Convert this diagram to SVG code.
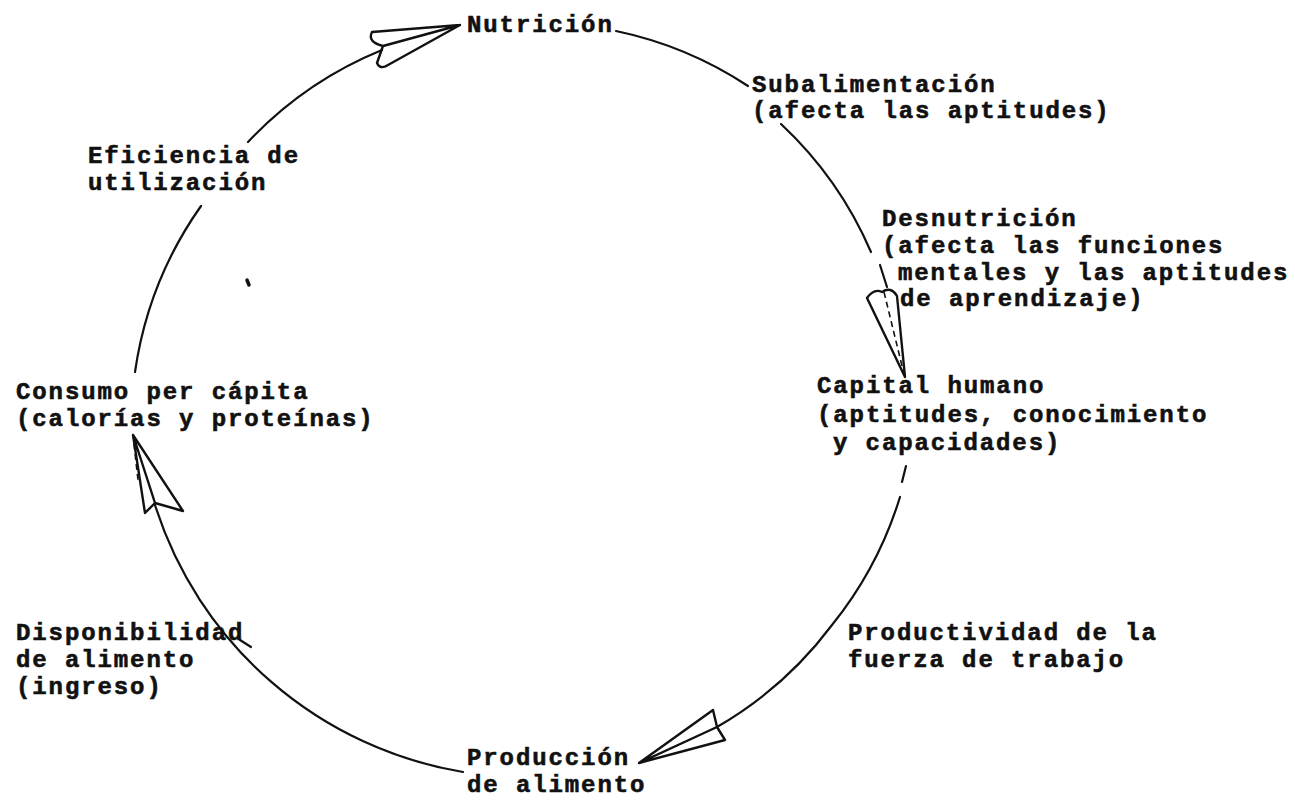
<svg xmlns="http://www.w3.org/2000/svg" width="1295" height="800" viewBox="0 0 1295 800">
<style>
.t{font-family:"Liberation Mono","DejaVu Sans Mono",monospace;font-weight:bold;font-size:24px;letter-spacing:1.9px;fill:#111;stroke:#111;stroke-width:0.6px}
.c{fill:none;stroke:#111;stroke-width:2.2;stroke-linecap:round;stroke-linejoin:round}
.a{fill:none;stroke:#111;stroke-width:2.4;stroke-linecap:round;stroke-linejoin:round}
.d{fill:none;stroke:#111;stroke-width:1.6;stroke-dasharray:6 4}
</style>
<rect width="1295" height="800" fill="#fff"/>
<g id="connectors">
<path class="c" d="M616,31 A382,382 0 0 1 748,86"/>
<path class="c" d="M781,124 A382,382 0 0 1 871,252"/>
<path class="c" d="M880,265 L887,287"/>
<path class="a" d="M867,298 L905,377 L897,296 Q891,286 882,292 Q874,288 867,298 Z"/>
<path class="d" d="M884,292 L903,370"/>
<path class="c" d="M906,466 L902,482"/>
<path class="c" d="M900,497 A382,382 0 0 1 832,625 A382,382 0 0 1 717,727"/>
<path class="a" d="M639,763 L713,710 L717,727 Z M639,763 L717,727 L725,740 Z"/>
<path class="c" d="M463,772 A390,390 0 0 1 155,505"/>
<path class="c" d="M240,640 L251,647"/>
<path class="a" d="M133,435 L145,513 L155,503 Z M133,435 L155,503 L183,511 Z"/>
<path class="d" d="M134,444 L138,480"/>
<path class="c" d="M135,372 A382,382 0 0 1 201,206"/>
<path class="c" d="M248,142 A382,382 0 0 1 382,50"/>
<path class="a" d="M460,25 L372,32 Q367,42 383,46 Z M460,25 L383,46 L377,63 Q380,70 388,65 Z"/>
<path class="c" d="M247,280 L249,285" style="stroke-width:3.5"/>
</g>
<g id="nutricion"><text class="t" x="467" y="32">Nutrición</text></g>
<g id="subalimentacion"><text class="t" x="752" y="92">Subalimentación</text><text class="t" x="752" y="118">(afecta las aptitudes)</text></g>
<g id="desnutricion"><text class="t" x="882" y="226">Desnutrición</text><text class="t" x="882" y="253">(afecta las funciones</text><text class="t" x="898" y="280">mentales y las aptitudes</text><text class="t" x="900" y="306">de aprendizaje)</text></g>
<g id="capital"><text class="t" x="817" y="393">Capital humano</text><text class="t" x="817" y="422">(aptitudes, conocimiento</text><text class="t" x="833" y="450">y capacidades)</text></g>
<g id="productividad"><text class="t" x="848" y="640">Productividad de la</text><text class="t" x="848" y="667">fuerza de trabajo</text></g>
<g id="produccion"><text class="t" x="467" y="765">Producción</text><text class="t" x="467" y="792">de alimento</text></g>
<g id="disponibilidad"><text class="t" x="16" y="640">Disponibilidad</text><text class="t" x="16" y="667">de alimento</text><text class="t" x="16" y="694">(ingreso)</text></g>
<g id="consumo"><text class="t" x="16" y="399">Consumo per cápita</text><text class="t" x="16" y="426">(calorías y proteínas)</text></g>
<g id="eficiencia"><text class="t" x="88" y="163">Eficiencia de</text><text class="t" x="88" y="190">utilización</text></g>
</svg>
